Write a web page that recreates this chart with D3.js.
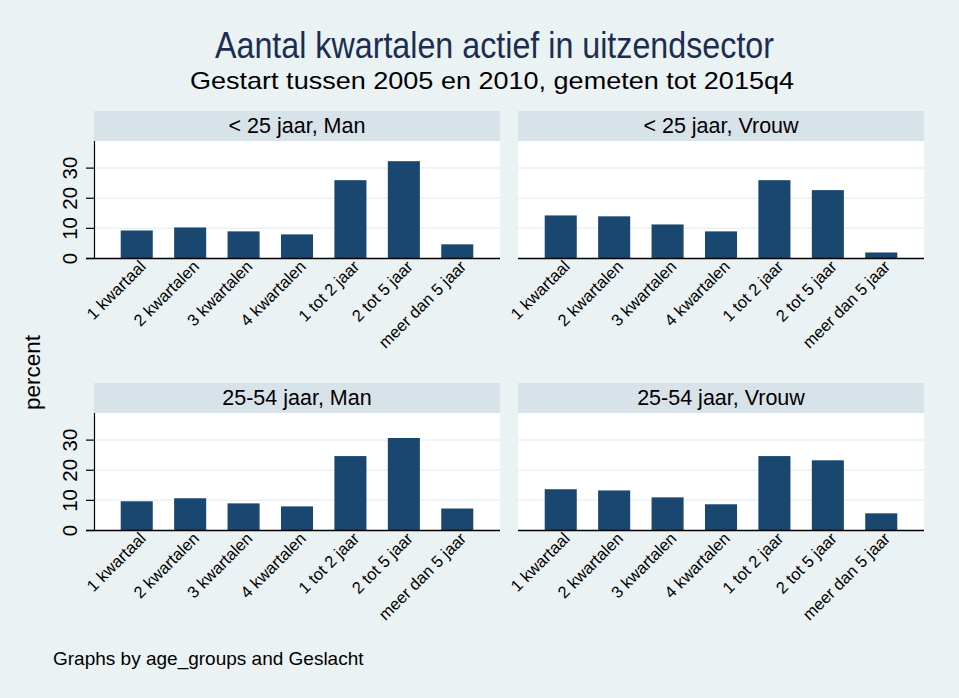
<!DOCTYPE html>
<html>
<head>
<meta charset="utf-8">
<script src="https://cdn.jsdelivr.net/npm/d3@7"></script>
<style>
  html, body { margin: 0; padding: 0; background: #EAF2F3; }
  svg { display: block; }
  text { font-family: "Liberation Sans", Arial, sans-serif; }
</style>
</head>
<body>
<svg id="chart" width="959" height="698"></svg>
<script>
// ---- data ----
const categories = ["1 kwartaal", "2 kwartalen", "3 kwartalen", "4 kwartalen", "1 tot 2 jaar", "2 tot 5 jaar", "meer dan 5 jaar"];
const facetLabels = ["< 25 jaar, Man", "< 25 jaar, Vrouw", "25-54 jaar, Man", "25-54 jaar, Vrouw"];
const young_man = [9.3, 10.3, 9.0, 8.0, 26.0, 32.3, 4.7];
const young_vrouw = [14.3, 14.0, 11.3, 9.0, 26.0, 22.7, 2.0];
const mid_man = [9.7, 10.7, 9.0, 8.0, 24.7, 30.7, 7.3];
const mid_vrouw = [13.7, 13.3, 11.0, 8.7, 24.7, 23.3, 5.7];
const yTicks = [0, 10, 20, 30];
const titleText = "Aantal kwartalen actief in uitzendsector";
const subtitleText = "Gestart tussen 2005 en 2010, gemeten tot 2015q4";
const yTitle = "percent";
const noteText = "Graphs by age_groups and Geslacht";

const seriesList = [young_man, young_vrouw, mid_man, mid_vrouw];

// ---- layout ----
const svg = d3.select("#chart");
const colX = [94, 518];
const stripY = [111, 383];
const panelW = 406, stripH = 30, plotH = 117.5;

const x = d3.scaleBand().domain(categories).range([0, panelW]).paddingInner(0.4).paddingOuter(0.5);
const y = d3.scaleLinear().domain([0, 39]).range([plotH, 0]);

svg.append("rect").attr("width", 959).attr("height", 698).attr("fill", "#EAF2F3");

seriesList.forEach((vals, i) => {
  const col = i % 2, row = Math.floor(i / 2);
  const g = svg.append("g").attr("transform", `translate(${colX[col]},${stripY[row]})`);
  // strip
  g.append("rect").attr("x", 0).attr("y", 0).attr("width", panelW).attr("height", stripH).attr("fill", "#D7E2E9");
  g.append("text").attr("x", panelW / 2).attr("y", 22).attr("text-anchor", "middle")
    .attr("font-size", 21.5).attr("fill", "#000").text(facetLabels[i]);
  const p = g.append("g").attr("transform", `translate(0,${stripH})`);
  p.append("rect").attr("width", panelW).attr("height", plotH).attr("fill", "#fff");
  // grid
  p.selectAll("line.grid").data(yTicks.filter(t => t > 0)).join("line")
    .attr("x1", 0).attr("x2", panelW).attr("y1", d => y(d)).attr("y2", d => y(d))
    .attr("stroke", "#EAF2F3").attr("stroke-width", 1.5);
  // bars
  p.selectAll("rect.bar").data(vals.map((v, k) => ({ c: categories[k], v }))).join("rect")
    .attr("class", "bar")
    .attr("x", d => x(d.c)).attr("width", x.bandwidth())
    .attr("y", d => y(d.v)).attr("height", d => y(0) - y(d.v))
    .attr("fill", "#1A476F");
  // baseline
  p.append("line").attr("x1", col === 0 ? -8 : 0).attr("x2", panelW)
    .attr("y1", y(0)).attr("y2", y(0)).attr("stroke", "#000").attr("stroke-width", 1.4);
  // y axis on left column
  if (col === 0) {
    p.append("line").attr("x1", 0.5).attr("x2", 0.5).attr("y1", 0).attr("y2", y(0))
      .attr("stroke", "#000").attr("stroke-width", 1.2);
    p.selectAll("line.tick").data(yTicks).join("line")
      .attr("x1", -8).attr("x2", 0).attr("y1", d => y(d)).attr("y2", d => y(d))
      .attr("stroke", "#000").attr("stroke-width", 1.2);
    p.selectAll("text.ylab").data(yTicks).join("text")
      .attr("transform", d => `translate(-17,${y(d)}) rotate(-90)`)
      .attr("text-anchor", "middle").attr("font-size", 20.5).attr("fill", "#000")
      .text(d => d);
  }
  // x labels
  p.selectAll("text.xlab").data(categories).join("text")
    .attr("transform", d => `translate(${x(d) + x.bandwidth() / 2 + 10},${y(0) + 9}) rotate(-45)`)
    .attr("text-anchor", "end").attr("font-size", 16.5).attr("fill", "#000")
    .text(d => d);
});

// titles
svg.append("text").attr("x", 215).attr("y", 58).attr("font-size", 36)
  .attr("textLength", 559).attr("lengthAdjust", "spacingAndGlyphs")
  .attr("fill", "#1C2E50").text(titleText);
svg.append("text").attr("x", 190).attr("y", 89).attr("font-size", 24)
  .attr("textLength", 604).attr("lengthAdjust", "spacingAndGlyphs")
  .attr("fill", "#000").text(subtitleText);
svg.append("text").attr("transform", "translate(40,372.5) rotate(-90)")
  .attr("text-anchor", "middle").attr("font-size", 22.5).attr("fill", "#000").text(yTitle);
svg.append("text").attr("x", 53).attr("y", 665).attr("font-size", 19).attr("fill", "#000").text(noteText);
</script>
</body>
</html>
